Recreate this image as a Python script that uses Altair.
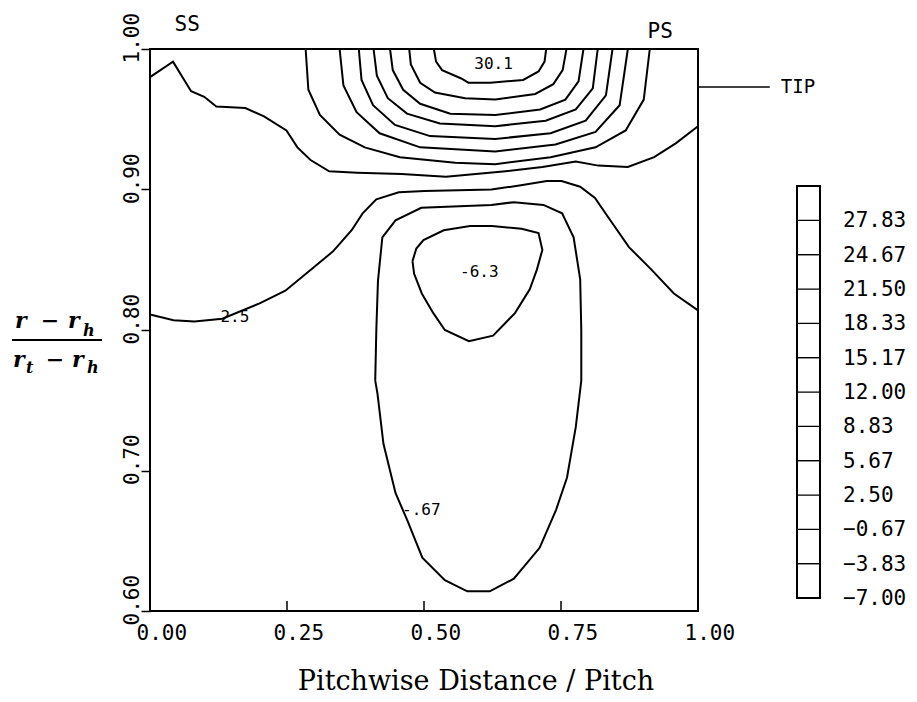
import altair as alt
import pandas as pd

# ---------------- axis ticks ----------------
x_ticks = [0.00, 0.25, 0.50, 0.75, 1.00]
y_ticks = [0.60, 0.70, 0.80, 0.90, 1.00]

# ---------------- legend levels ----------------
levels = [-7.00, -3.83, -0.67, 2.50, 5.67, 8.83, 12.00, 15.17, 18.33, 21.50, 24.67, 27.83]
level_top = 31.00

# ---------------- contour lines (pitch fraction, r/r span) ----------------
c01_x = [0.518, 0.522, 0.533, 0.568, 0.581, 0.621, 0.681, 0.709, 0.720, 0.723]
c01_y = [1.000, 0.991, 0.985, 0.979, 0.976, 0.976, 0.978, 0.984, 0.991, 1.000]
c02_x = [0.473, 0.476, 0.493, 0.520, 0.575, 0.630, 0.703, 0.736, 0.753, 0.760]
c02_y = [1.000, 0.989, 0.976, 0.969, 0.965, 0.964, 0.968, 0.975, 0.985, 1.000]
c03_x = [0.438, 0.443, 0.462, 0.493, 0.548, 0.630, 0.712, 0.758, 0.782, 0.791]
c03_y = [1.000, 0.985, 0.971, 0.961, 0.954, 0.953, 0.957, 0.964, 0.977, 1.000]
c04_x = [0.408, 0.414, 0.434, 0.469, 0.529, 0.630, 0.722, 0.777, 0.808, 0.817]
c04_y = [1.000, 0.981, 0.965, 0.954, 0.947, 0.945, 0.949, 0.957, 0.972, 1.000]
c05_x = [0.381, 0.386, 0.407, 0.447, 0.511, 0.630, 0.731, 0.795, 0.832, 0.844]
c05_y = [1.000, 0.978, 0.960, 0.946, 0.938, 0.936, 0.940, 0.949, 0.967, 1.000]
c06_x = [0.346, 0.353, 0.377, 0.419, 0.493, 0.630, 0.740, 0.813, 0.857, 0.872]
c06_y = [1.000, 0.974, 0.955, 0.940, 0.930, 0.927, 0.932, 0.941, 0.960, 1.000]
c07_x = [0.284, 0.289, 0.310, 0.346, 0.392, 0.456, 0.557, 0.630, 0.731, 0.813, 0.868, 0.901, 0.912]
c07_y = [1.000, 0.971, 0.953, 0.939, 0.930, 0.923, 0.919, 0.918, 0.923, 0.930, 0.942, 0.964, 1.000]
c08_x = [0.000, 0.042, 0.075, 0.099, 0.121, 0.174, 0.208, 0.249, 0.269, 0.293, 0.327,
         0.378, 0.459, 0.540, 0.649, 0.716, 0.777, 0.818, 0.872, 0.920, 0.960, 1.000]
c08_y = [0.980, 0.991, 0.970, 0.966, 0.959, 0.958, 0.952, 0.942, 0.930, 0.921, 0.913,
         0.912, 0.911, 0.909, 0.913, 0.916, 0.920, 0.917, 0.916, 0.923, 0.933, 0.945]
c09_x = [0.000, 0.043, 0.081, 0.132, 0.200, 0.247, 0.294, 0.334, 0.368, 0.388, 0.413, 0.454,
         0.501, 0.623, 0.677, 0.724, 0.751, 0.785, 0.812, 0.833, 0.874, 0.915, 0.956, 1.000]
c09_y = [0.811, 0.807, 0.806, 0.808, 0.819, 0.828, 0.843, 0.856, 0.871, 0.883, 0.893, 0.898,
         0.899, 0.900, 0.903, 0.906, 0.906, 0.902, 0.894, 0.882, 0.859, 0.843, 0.826, 0.814]
c10_x = [0.411, 0.413, 0.416, 0.424, 0.448, 0.495, 0.623, 0.664, 0.718, 0.752, 0.773, 0.785,
         0.787, 0.787, 0.777, 0.761, 0.741, 0.711, 0.664, 0.620, 0.579, 0.538, 0.497, 0.469,
         0.448, 0.426, 0.415, 0.411]
c10_y = [0.764, 0.800, 0.835, 0.866, 0.878, 0.887, 0.889, 0.891, 0.889, 0.883, 0.866, 0.836,
         0.800, 0.764, 0.731, 0.695, 0.672, 0.645, 0.623, 0.614, 0.614, 0.622, 0.638, 0.665,
         0.684, 0.719, 0.755, 0.764]
c11_x = [0.479, 0.486, 0.499, 0.536, 0.584, 0.624, 0.678, 0.709, 0.716, 0.706, 0.693, 0.666,
         0.626, 0.582, 0.538, 0.517, 0.496, 0.482, 0.479]
c11_y = [0.849, 0.858, 0.864, 0.871, 0.874, 0.874, 0.872, 0.869, 0.857, 0.843, 0.829, 0.812,
         0.796, 0.792, 0.800, 0.812, 0.826, 0.840, 0.849]

contours = [(c01_x, c01_y), (c02_x, c02_y), (c03_x, c03_y), (c04_x, c04_y), (c05_x, c05_y),
            (c06_x, c06_y), (c07_x, c07_y), (c08_x, c08_y), (c09_x, c09_y), (c10_x, c10_y),
            (c11_x, c11_y)]

# contour labels
lbl_text = ["30.1", "-6.3", "2.5", "-.67"]
lbl_x = [0.627, 0.601, 0.155, 0.495]
lbl_y = [0.989, 0.841, 0.809, 0.672]

# side annotations
side_text = ["SS", "PS"]
side_x = [0.068, 0.931]
side_y = [1.017, 1.012]
tip_x = [1.000]
tip_x2 = [1.131]
tip_y = [0.973]
tip_label_x = [1.151]

# ---------------- build tables ----------------
rows = []
for cid, (xs, ys) in enumerate(contours):
    for k, (xv, yv) in enumerate(zip(xs, ys)):
        rows.append({"cid": cid, "k": k, "x": xv, "y": yv})
df_lines = pd.DataFrame(rows)
df_lbl = pd.DataFrame({"x": lbl_x, "y": lbl_y, "t": lbl_text})
df_side = pd.DataFrame({"x": side_x, "y": side_y, "t": side_text})
df_tip = pd.DataFrame({"x": tip_x, "x2": tip_x2, "y": tip_y})
df_tiplbl = pd.DataFrame({"x": tip_label_x, "y": tip_y, "t": ["TIP"]})
df_xt = pd.DataFrame({"x": x_ticks})
df_leg = pd.DataFrame({"lo": levels, "hi": levels[1:] + [level_top]})
df_legbox = pd.DataFrame({"lo": [levels[0]], "hi": [level_top]})
one = pd.DataFrame({"d": [0]})

MONO = "DejaVu Sans Mono"
SERIF = "DejaVu Serif"
W, H = 548, 562

X = alt.X("x:Q", title=None,
          scale=alt.Scale(domain=[0, 1], nice=False, zero=False),
          axis=alt.Axis(values=x_ticks, format=".2f", title=None, domain=False, ticks=False,
                        tickSize=0, labelPadding=11, labelFont=MONO, labelFontSize=21,
                        labelColor="black", labelAlign="left", labelBaseline="top",
                        labelOffset=-14, labelFlush=False, labelOverlap=False, grid=False))
Y = alt.Y("y:Q", title=None,
          scale=alt.Scale(domain=[0.6, 1.0], nice=False, zero=False),
          axis=alt.Axis(values=y_ticks, format=".2f", title=None, domain=False, ticks=True,
                        tickSize=9, tickWidth=1.5, tickColor="black", labelPadding=3,
                        labelFont=MONO, labelFontSize=21, labelColor="black", labelAngle=270,
                        labelAlign="left", labelBaseline="alphabetic", labelOffset=14,
                        labelFlush=False, labelOverlap=False, grid=False))

lines = alt.Chart(df_lines).mark_line(color="black", strokeWidth=2.0, clip=False).encode(
    x=X, y=Y, detail="cid:N", order="k:Q")
labels = alt.Chart(df_lbl).mark_text(font=MONO, fontSize=16, color="black",
                                     baseline="middle", align="center").encode(x=X, y=Y, text="t:N")
side = alt.Chart(df_side).mark_text(font=MONO, fontSize=21, color="black",
                                    baseline="middle", align="center").encode(x=X, y=Y, text="t:N")
tip = alt.Chart(df_tip).mark_rule(color="black", strokeWidth=1.6, clip=False).encode(
    x=X, x2="x2:Q", y=Y)
tiplbl = alt.Chart(df_tiplbl).mark_text(font=MONO, fontSize=19, color="black",
                                        baseline="middle", align="left").encode(x=X, y=Y, text="t:N")
xticks_in = alt.Chart(df_xt).mark_rule(color="black", strokeWidth=1.5).encode(
    x=X, y=alt.value(H), y2=alt.value(H - 10))

# x title
xtitle = alt.Chart(one).mark_text(text="Pitchwise Distance / Pitch", font="DejaVu Serif",
                                  fontSize=27, color="black", align="center",
                                  baseline="alphabetic").encode(x=alt.value(326), y=alt.value(641))

# y title as a fraction (r - r_h) / (r_t - r_h)
def txt(s, x, y, size=22, weight="bold", style="italic", align="left"):
    return alt.Chart(one).mark_text(text=s, font=SERIF, fontSize=size, fontWeight=weight,
                                    fontStyle=style, color="black", align=align,
                                    baseline="alphabetic").encode(x=alt.value(x), y=alt.value(y))

frac = [
    txt("r", -135, 279), txt("\u2212", -100, 279, style="normal", align="center"),
    txt("r", -82, 279), txt("h", -67, 287, size=16),
    txt("r", -137, 318), txt("t", -124, 324, size=16),
    txt("\u2212", -95, 318, style="normal", align="center"),
    txt("r", -78, 318), txt("h", -63, 324, size=16),
]
bar = alt.Chart(one).mark_rule(color="black", strokeWidth=2.2).encode(
    x=alt.value(-138), x2=alt.value(-48), y=alt.value(291))

main = alt.layer(lines, labels, side, tip, tiplbl, xticks_in, xtitle, bar, *frac)

# legend (key of contour levels)
LY = alt.Y("lo:Q", title=None,
           scale=alt.Scale(domain=[levels[0], level_top], range=[549, 137], nice=False, zero=False),
           axis=None)
leg_cells = alt.Chart(df_leg).mark_rect(fill="white", stroke="black", strokeWidth=1.2).encode(
    x=alt.value(647), x2=alt.value(670), y=LY, y2="hi:Q")
leg_box = alt.Chart(df_legbox).mark_rect(fill=None, stroke="black", strokeWidth=2).encode(
    x=alt.value(647), x2=alt.value(670), y=LY, y2="hi:Q")
leg_lbl = alt.Chart(df_leg).mark_text(font=MONO, fontSize=21, color="black", align="left",
                                      baseline="middle", dy=1).encode(
    x=alt.value(693), y=LY, text=alt.Text("lo:Q", format=".2f"))
legend = alt.layer(leg_cells, leg_box, leg_lbl)

chart = alt.layer(main, legend).resolve_scale(y="independent").properties(
    width=W, height=H, background="white",
    autosize=alt.AutoSizeParams(type="none"),
    padding={"left": 150, "top": 49, "right": 219, "bottom": 91},
).configure_view(stroke="black", strokeWidth=2)

chart.save("out.html", embed_options={"renderer": "svg", "actions": False})
